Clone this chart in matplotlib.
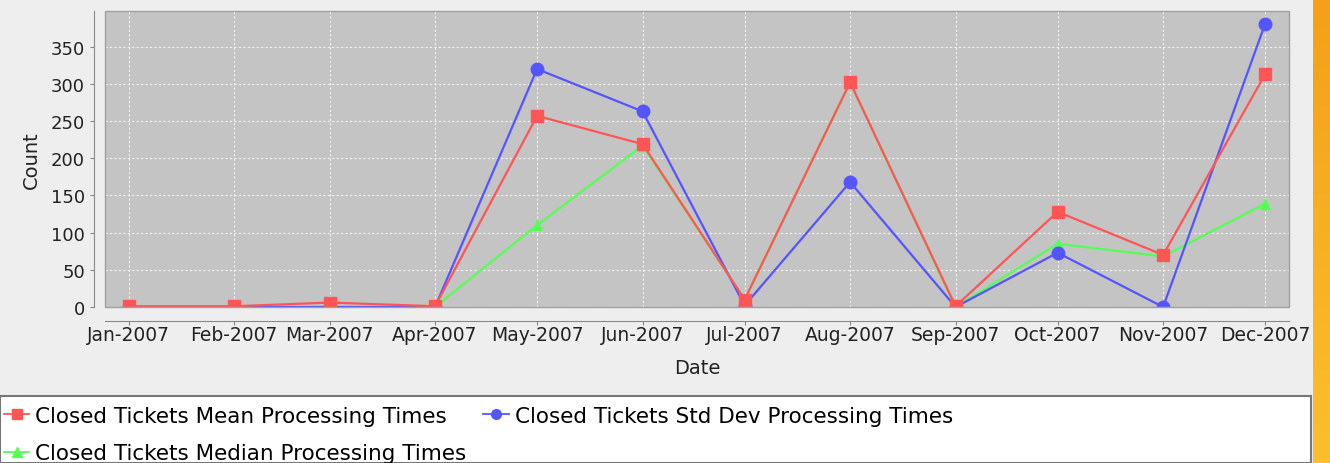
import datetime as dt
import numpy as np
import matplotlib
matplotlib.use("Agg")
import matplotlib.pyplot as plt
import matplotlib.dates as mdates
from matplotlib.patches import Rectangle
from matplotlib.lines import Line2D
from matplotlib.colors import LinearSegmentedColormap

months = [dt.datetime(2007, m, 1) for m in range(1, 13)]
mean_times = [1, 1, 6, 1, 257, 219, 10, 302, 1, 128, 70, 313]
std_times = [0, 0, 0, 0, 320, 263, 2, 168, 0, 73, 0, 381]
median_times = [0, 0, 0, 0, 110, 217, 10, 302, 0, 85, 68, 139]

labels = ["Closed Tickets Mean Processing Times",
          "Closed Tickets Std Dev Processing Times",
          "Closed Tickets Median Processing Times"]

red = "#ff5555"
blue = "#5555ff"
green = "#55ff55"

fig = plt.figure(figsize=(13.3, 4.64), dpi=100)
fig.patch.set_facecolor("#eeeeee")

ax = fig.add_axes([105/1330, 1-308/464, (1289-105)/1330, (308-12)/464])
ax.set_facecolor("#c4c4c4")

# JFreeChart draws series in reverse order, so the first one is on top
ax.plot(months, median_times, color=green, lw=1.6, marker="^", ms=7, zorder=3)
ax.plot(months, std_times, color=blue, lw=1.6, marker="o", ms=9, zorder=4)
ax.plot(months, mean_times, color=red, lw=1.6, marker="s", ms=8.5, zorder=5)

ax.set_xlim(dt.datetime(2006, 12, 25), dt.datetime(2007, 12, 8))
ax.set_ylim(0, 398)
ax.set_yticks(range(0, 400, 50))
ax.xaxis.set_major_locator(mdates.MonthLocator())
ax.xaxis.set_major_formatter(mdates.DateFormatter("%b-%Y"))

ax.grid(True, color="#f2f2f2", linestyle=(0, (2, 2)), lw=0.8)
ax.set_axisbelow(True)

for s in ["top", "right"]:
    ax.spines[s].set_visible(False)
ax.spines["left"].set_position(("outward", 8))
ax.spines["bottom"].set_position(("outward", 10))
ax.spines["left"].set_color("#888888")
ax.spines["bottom"].set_color("#888888")
ax.add_patch(Rectangle((0, 0), 1, 1, transform=ax.transAxes, fill=False,
                       edgecolor="#a0a0a0", lw=1, clip_on=False, zorder=6))
ax.tick_params(axis="both", colors="#888888", labelcolor="#222222",
               labelsize=13, length=3)
ax.tick_params(axis="x", labelsize=13.5, pad=0)
ax.set_xlabel("Date", fontsize=14, color="#222222", labelpad=10)
ax.set_ylabel("Count", fontsize=14, color="#222222", labelpad=7)

# legend box
fig.patches.append(Rectangle((0, 0), 1311/1330, 1-397/464, transform=fig.transFigure,
                             facecolor="white", edgecolor="#777777", lw=1.5))
handles = [Line2D([], [], color=red, marker="s", ms=7, lw=1.3),
           Line2D([], [], color=green, marker="^", ms=7, lw=1.3),
           Line2D([], [], color=blue, marker="o", ms=7, lw=1.3)]
fig.legend(handles, [labels[0], labels[2], labels[1]], ncol=2, frameon=False,
           loc="upper left", bbox_to_anchor=(-0.007, 1-394/464), fontsize=15.5,
           handlelength=1.2, handletextpad=0.25, columnspacing=0.8,
           labelspacing=0.8, borderaxespad=0.2)

# orange side strip
strip = fig.add_axes([1313/1330, 0, 17/1330, 1])
grad = np.linspace(0, 1, 100).reshape(-1, 1)
cmap = LinearSegmentedColormap.from_list("o", ["#f5a018", "#fbbf2d"])
strip.imshow(grad, aspect="auto", cmap=cmap, origin="upper")
strip.axis("off")

fig.savefig("out.png", dpi=100, facecolor=fig.get_facecolor())
